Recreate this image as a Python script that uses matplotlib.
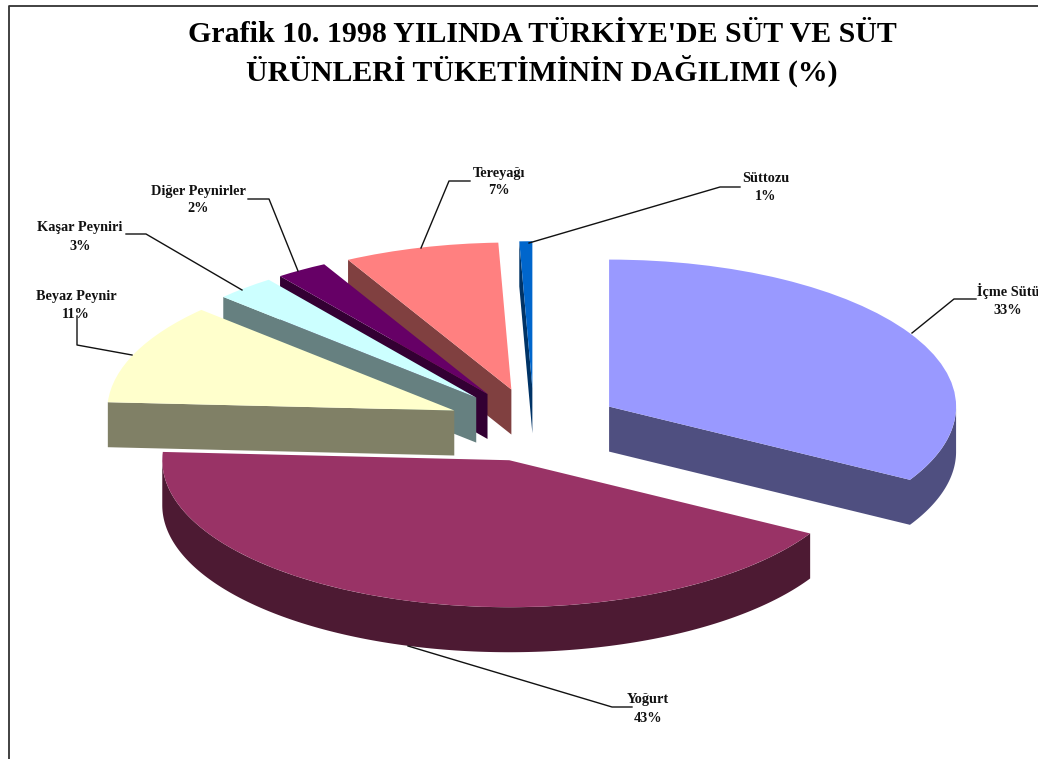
import numpy as np
import matplotlib
matplotlib.use("Agg")
import matplotlib.pyplot as plt
from matplotlib.patches import Polygon

W, H = 1038, 759
title_text = "Grafik 10. 1998 YILINDA TÜRKİYE'DE SÜT VE SÜT\nÜRÜNLERİ TÜKETİMİNİN DAĞILIMI (%)"
categories = ["İçme Sütü", "Yoğurt", "Beyaz Peynir", "Kaşar Peyniri",
              "Diğer Peynirler", "Tereyağı", "Süttozu"]
values = [33.3, 42.6, 11.1, 2.8, 2.4, 7.2, 0.6]
percent_labels = ["33%", "43%", "11%", "3%", "2%", "7%", "1%"]
top_colors = ["#9999FF", "#993366", "#FFFFCC", "#CCFFFF", "#660066", "#FF8080", "#0066CC"]
wall_colors = ["#4F4F80", "#4D1A33", "#808066", "#668080", "#330033", "#804040", "#003366"]
explode = [0.25] * 7
draw_order = [6, 5, 4, 3, 1, 0, 2]

# Pixel geometry of the squashed pie
cx, cy, rx, ry, depth = 534, 425, 347, 147, 45

label_xy = [(1008, 300), (648, 709), (76, 305), (80, 237), (198, 200), (499, 182), (766, 187)]
leaders = [[(912, 333), (954, 299), (976, 299)],
           [(408, 646), (612, 707), (632, 707)],
           [(132, 355), (77, 345), (77, 316)],
           [(242, 290), (146, 234), (126, 234)],
           [(298, 271), (269, 199), (248, 199)],
           [(421, 248), (449, 181), (470, 181)],
           [(529, 243), (720, 187), (740, 187)]]

plt.rcParams['font.family'] = ['Liberation Serif', 'DejaVu Serif']
fig = plt.figure(figsize=(W / 100, H / 100), dpi=100)
ax = fig.add_axes([0, 0, 1, 1])
wedges, _ = ax.pie(values, explode=explode, colors=top_colors, startangle=90,
                   counterclock=False, wedgeprops=dict(linewidth=0))
ax.set_aspect('auto')
ax.set_xlim((0 - cx) / rx, (W - cx) / rx)
ax.set_ylim((cy - H) / ry, (cy - 0) / ry)

d = depth / ry
for z, i in enumerate(draw_order):
    w = wedges[i]
    t = np.radians(np.linspace(w.theta1, w.theta2, 240))
    x = np.r_[w.center[0], w.center[0] + w.r * np.cos(t), w.center[0]]
    y = np.r_[w.center[1], w.center[1] + w.r * np.sin(t), w.center[1]]
    # only the boundary pieces facing the viewer get a wall (x rises along the CCW outline)
    front = np.diff(x) > 0
    k = 0
    while k < len(front):
        if not front[k]:
            k += 1
            continue
        e = k
        while e < len(front) and front[e]:
            e += 1
        xs, ys = x[k:e + 1], y[k:e + 1]
        pts = np.r_[np.c_[xs, ys], np.c_[xs[::-1], ys[::-1] - d]]
        ax.add_patch(Polygon(pts, closed=True, fc=wall_colors[i], lw=0, zorder=2 * z + 1))
        k = e
    w.set_zorder(2 * z + 2)


def px(p):
    return p[0] / W, 1 - p[1] / H


for pts in leaders:
    f = [px(p) for p in pts]
    fig.add_artist(plt.Line2D([a for a, _ in f], [b for _, b in f], color="#111111", lw=1.0,
                              transform=fig.transFigure, zorder=30))

for c, p, xy in zip(categories, percent_labels, label_xy):
    fx, fy = px(xy)
    fig.text(fx, fy, c + "\n" + p, ha="center", va="center", fontsize=10.3, fontweight="bold",
             linespacing=1.5, color="#111111")

fig.text(542 / W, 1 - 54 / H, title_text, ha="center", va="center", fontsize=21.5,
         fontweight="bold", linespacing=1.25, color="black")

fig.add_artist(plt.Line2D([9 / W, 9 / W, 1], [0, 1 - 6 / H, 1 - 6 / H], color="#333333", lw=1.3,
                          transform=fig.transFigure))
fig.savefig("out.png", dpi=100)
